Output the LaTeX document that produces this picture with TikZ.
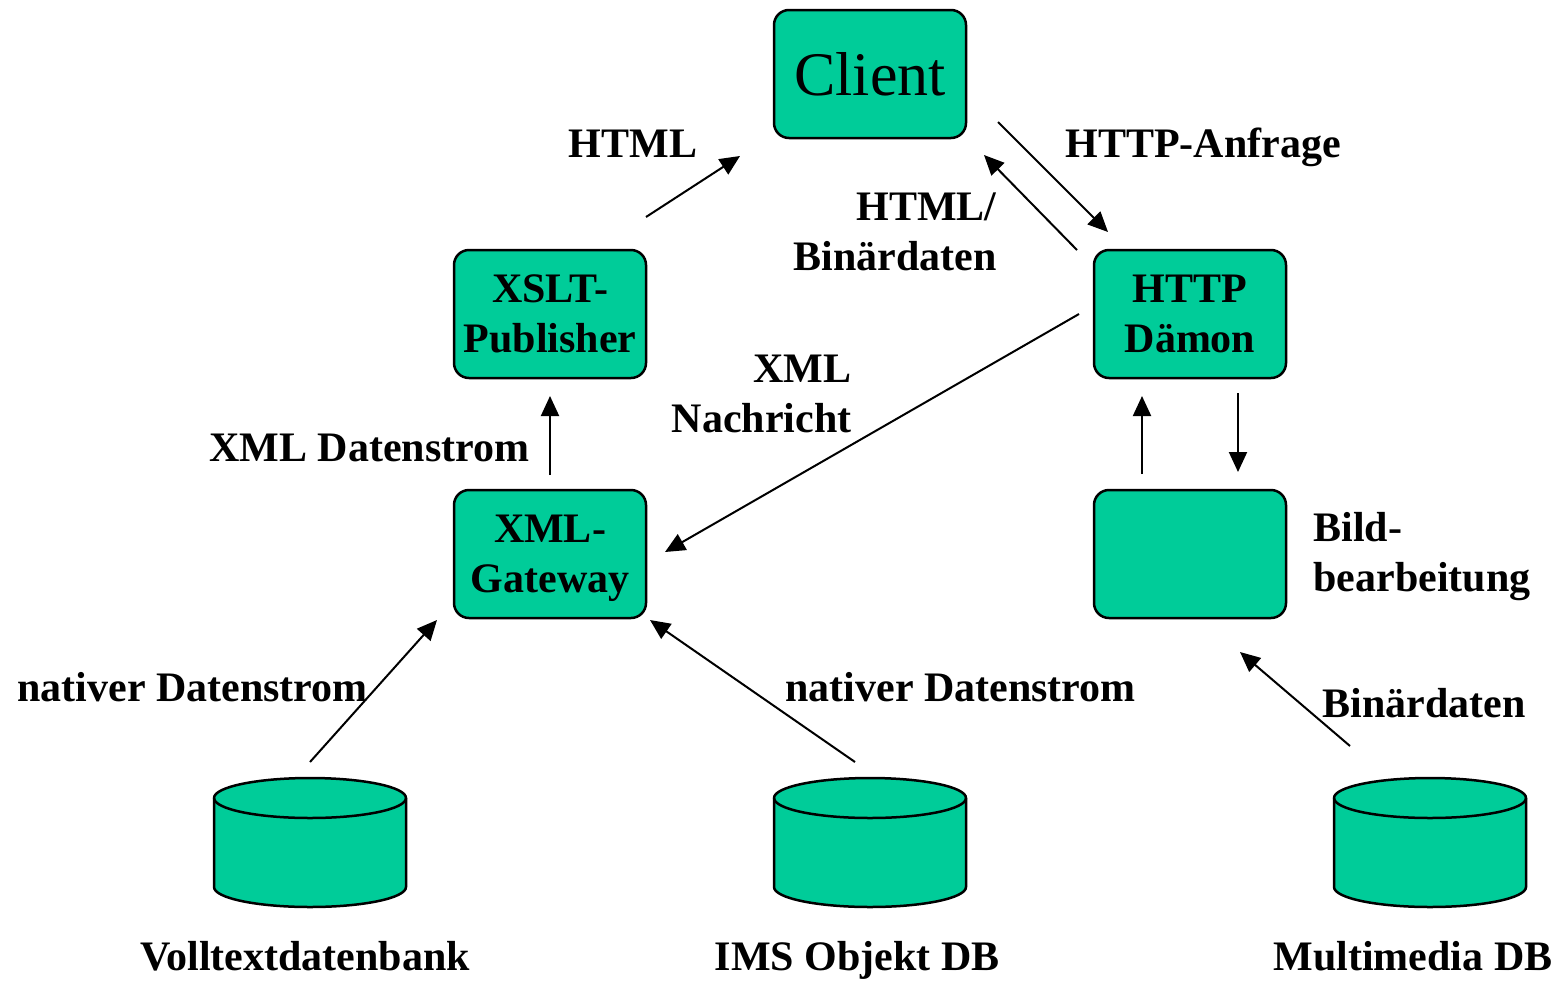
\documentclass[tikz,border=0pt]{standalone}
\usepackage{fontspec}
\setmainfont{Liberation Serif}
\usetikzlibrary{arrows.meta}
\definecolor{boxgreen}{RGB}{0,204,153}
\newcommand\lblfont{\bfseries\fontsize{21}{25}\selectfont}
\newcommand\clientfont{\fontsize{31}{36}\selectfont}
\begin{document}
\begin{tikzpicture}[x=0.5pt,y=-0.5pt,
  box/.style={draw=black,line width=1.25pt,fill=boxgreen,rounded corners=7.5pt,
    minimum width=96pt,minimum height=64pt,inner sep=0pt,align=center,font=\lblfont},
  lab/.style={font=\lblfont,inner sep=0pt},
  arr/.style={line width=1pt,-{Triangle[length=10pt,width=9pt]}},
  db/.style={draw=black,line width=1.25pt,fill=boxgreen}]
\useasboundingbox (0,0) rectangle (1557,980);

% boxes
\node[box,font=\clientfont] (client) at (870,74) {Client};
\node[box] (xslt) at (550,314) {XSLT-\\Publisher};
\node[box] (httpd) at (1190,314) {HTTP\\Dämon};
\node[box,text depth=0pt] (xmlgw) at (550,554) {XML-\\Gateway};
\node[box] (bild) at (1190,554) {};

% databases
\foreach \cx/\nm in {310/db1,870/db2,1430/db3}{
  \coordinate (\nm) at (\cx,842);
  \path[db] (\cx-96,798) -- (\cx-96,887) arc[start angle=180,end angle=360,x radius=48pt,y radius=10pt]
     -- (\cx+96,798) arc[start angle=0,end angle=180,x radius=48pt,y radius=10pt] -- cycle;
  \draw[line width=1.25pt] (\cx-96,798) arc[start angle=180,end angle=360,x radius=48pt,y radius=10pt];
}

% labels
\node[lab,anchor=base] (lhtml) at (633,157) {HTML};
\node[lab,anchor=base west] (lanf) at (1065,157) {HTTP-Anfrage};
\node[lab,anchor=base east] (lhb1) at (997,220) {HTML/};
\node[lab,anchor=base east] (lhb2) at (997,270) {Binärdaten};
\node[lab,anchor=base east] (lxn1) at (852,382) {XML};
\node[lab,anchor=base east] (lxn2) at (852,432) {Nachricht};
\node[lab,anchor=base west] (lxds) at (209,461) {XML Datenstrom};
\node[lab,anchor=base west] (lbb1) at (1313,541) {Bild-};
\node[lab,anchor=base west] (lbb2) at (1313,591) {bearbeitung};
\node[lab,anchor=base west] (lnd1) at (17,701) {nativer Datenstrom};
\node[lab,anchor=base west] (lnd2) at (785,701) {nativer Datenstrom};
\node[lab,anchor=base west] (lbin) at (1322,717) {Binärdaten};
\node[lab,anchor=base] (ldb1) at (305,970) {Volltextdatenbank};
\node[lab,anchor=base] (ldb2) at (857,970) {IMS Objekt DB};
\node[lab,anchor=base] (ldb3) at (1413,970) {Multimedia DB};

% arrow end points
\coordinate (a1s) at (646,217);  \coordinate (a1e) at (740,156);
\coordinate (a2s) at (998,122);  \coordinate (a2e) at (1108,232);
\coordinate (a3s) at (1077,250); \coordinate (a3e) at (984,155);
\coordinate (a4s) at (1079,314); \coordinate (a4e) at (665,552);
\coordinate (a5s) at (550,475);  \coordinate (a5e) at (550,396);
\coordinate (a6s) at (1142,474); \coordinate (a6e) at (1142,396);
\coordinate (a7s) at (1238,393); \coordinate (a7e) at (1238,472);
\coordinate (a8s) at (310,762);  \coordinate (a8e) at (437,620);
\coordinate (a9s) at (855,762);  \coordinate (a9e) at (650,620);
\coordinate (a10s) at (1350,746); \coordinate (a10e) at (1240,652);

\foreach \i in {1,...,10}{ \draw[arr] (a\i s) -- (a\i e); }
\end{tikzpicture}
\end{document}
